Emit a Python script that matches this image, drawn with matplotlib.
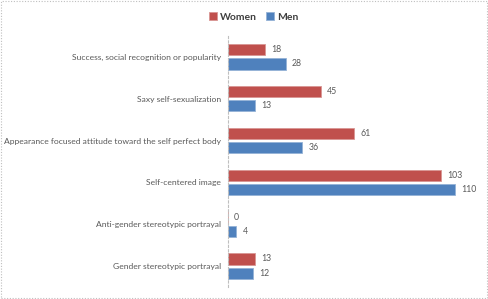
import matplotlib
matplotlib.use("Agg")
import matplotlib.pyplot as plt
import numpy as np
from matplotlib.patches import Rectangle

categories = [
    "Success, social recognition or popularity",
    "Saxy self-sexualization",
    "Appearance focused attitude toward the self perfect body",
    "Self-centered image",
    "Anti-gender stereotypic portrayal",
    "Gender stereotypic portrayal",
]
women = [18, 45, 61, 103, 0, 13]
men = [28, 13, 36, 110, 4, 12]

red = "#C0504D"
blue = "#4F81BD"
text_col = "#595959"

plt.rcParams["font.family"] = ["Lato", "DejaVu Sans"]

fig = plt.figure(figsize=(4.88, 2.99), dpi=100)
ax = fig.add_axes([0.467, 0.04, 0.508, 0.84])

y = np.arange(len(categories))
h = 0.27
off = 0.17
ax.barh(y - off, women, height=h, color=red, edgecolor="#D99694", linewidth=0.6, label="Women")
ax.barh(y + off, men, height=h, color=blue, edgecolor="#95B3D7", linewidth=0.6, label="Men")

for i in range(len(categories)):
    ax.text(women[i] + 3, y[i] - off, str(women[i]), va="center", ha="left", fontsize=6.3, color=text_col)
    ax.text(men[i] + 3, y[i] + off, str(men[i]), va="center", ha="left", fontsize=6.3, color=text_col)

ax.set_xlim(0, 120)
ax.set_ylim(len(categories) - 0.5, -0.5)
ax.set_yticks(y)
ax.set_yticklabels(categories, fontsize=6.1, color=text_col)
ax.tick_params(axis="y", length=0, pad=5)
ax.set_xticks([])
for s in ["top", "right", "bottom"]:
    ax.spines[s].set_visible(False)
ax.spines["left"].set_color("#BFBFBF")
ax.spines["left"].set_linestyle((0, (2, 2)))
ax.spines["left"].set_linewidth(0.8)

leg = fig.legend(loc="upper center", bbox_to_anchor=(0.52, 0.99), ncol=2, frameon=False,
                 fontsize=7.5, handlelength=0.8, handleheight=0.8, handletextpad=0.3, columnspacing=0.8)
for t in leg.get_texts():
    t.set_color("#404040")
    t.set_fontweight("bold")

fig.patches.append(Rectangle((0.002, 0.003), 0.995, 0.993, transform=fig.transFigure, fill=False,
                             edgecolor="#BFBFBF", linestyle=(0, (1, 1.5)), linewidth=0.8))

fig.savefig("out.png", dpi=100)
